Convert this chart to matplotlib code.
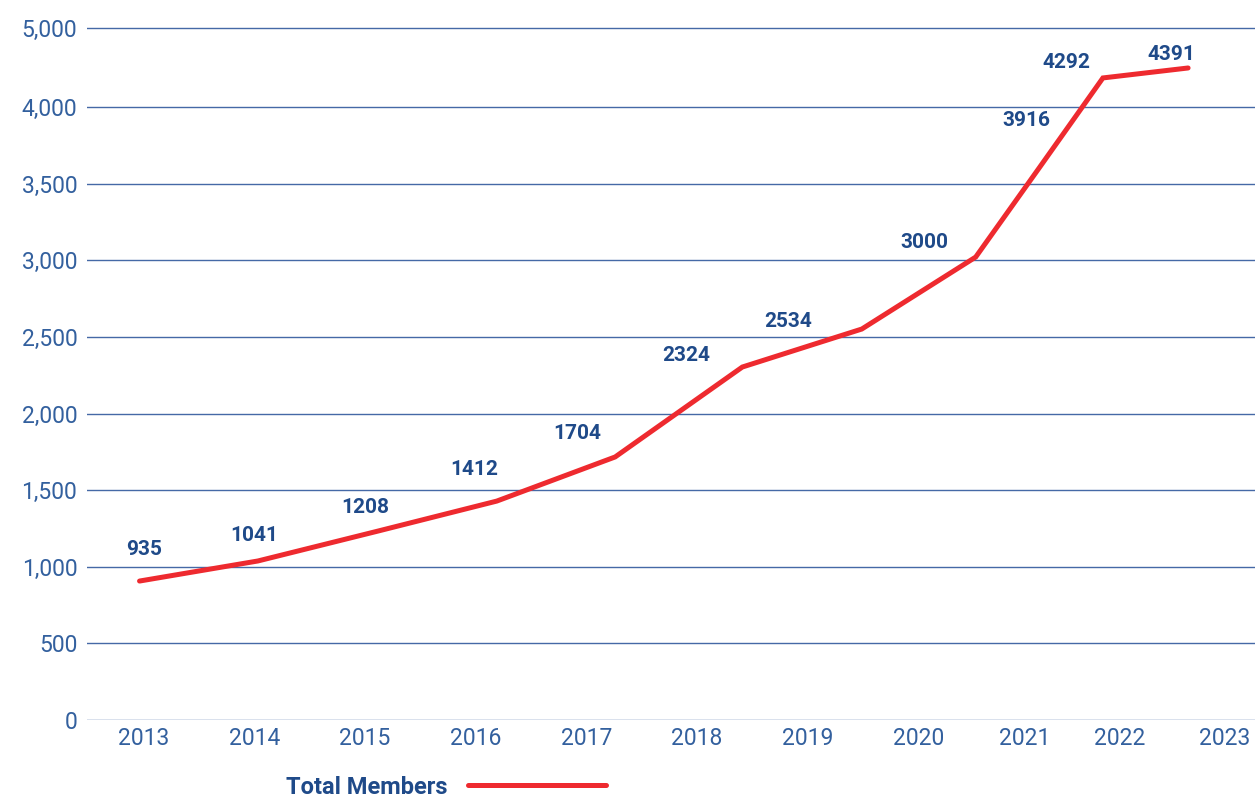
import matplotlib
matplotlib.use("Agg")
import matplotlib.pyplot as plt

# ---- data ----
years = ["2013", "2014", "2015", "2016", "2017", "2018", "2019", "2020", "2021", "2022", "2023"]
# positions of the year labels on the x axis (in year units)
tick_pos = [2013, 2014, 2015, 2016, 2017, 2018, 2019, 2020, 2020.96, 2021.82, 2022.77]
# line vertices as drawn (position, value)
line_pos = [2012.96, 2014.03, 2015.12, 2016.19, 2017.26, 2018.41, 2019.49, 2020.52, 2021.10, 2021.67, 2022.44]
line_vals = [907, 1038, 1234, 1429, 1717, 2304, 2552, 3022, 3610, 4191, 4256]
# data labels shown on the chart
members = [935, 1041, 1208, 1412, 1704, 2324, 2534, 3000, 3916, 4292, 4391]
label_pos = [2013.0, 2014.0, 2015.0, 2015.99, 2016.92, 2017.90, 2018.82, 2020.06, 2020.98, 2021.34, 2022.29]
label_y = [1116, 1207, 1384, 1632, 1873, 2382, 2598, 3120, 3910, 4289, 4341]
y_ticks = [0, 500, 1000, 1500, 2000, 2500, 3000, 3500, 4000, 4520]
y_tick_labels = ["0", "500", "1,000", "1,500", "2,000", "2,500", "3,000", "3,500", "4,000", "5,000"]
series_name = "Total Members"

# ---- style ----
RED = "#ee2a2f"
TICK = "#33609e"
LAB = "#1f4a89"
GRID = "#4569a6"

W, H = 1255, 797
fig = plt.figure(figsize=(W / 100, H / 100), dpi=100)
ax_left = 87 / W
ax_bottom = (H - 720) / H
ymax = 4650
px_per_unit = 0.1532
ax_top_px = 720 - ymax * px_per_unit
ax = fig.add_axes([ax_left, ax_bottom, 1 - ax_left, (720 - ax_top_px) / H])

ax.set_xlim(2012.485, 2023.045)
ax.set_ylim(0, ymax)

for s in ax.spines.values():
    s.set_visible(False)

ax.set_yticks(y_ticks)
ax.set_yticklabels(y_tick_labels)
ax.set_xticks(tick_pos)
ax.set_xticklabels(years)
ax.tick_params(axis="both", length=0, labelsize=16.5, labelcolor=TICK)
ax.tick_params(axis="y", pad=7)
ax.tick_params(axis="x", pad=5)
for t in ax.get_xticklabels() + ax.get_yticklabels():
    t.set_fontfamily("Roboto")
    t.set_fontweight("normal")

ax.yaxis.grid(True, color=GRID, linewidth=1.0)
ax.xaxis.grid(False)
ax.set_axisbelow(True)

ln, = ax.plot(line_pos, line_vals, color=RED, linewidth=3.6,
              solid_capstyle="round", solid_joinstyle="miter", label=series_name, zorder=3)

for x, y, v in zip(label_pos, label_y, members):
    ax.text(x, y, str(v), ha="center", va="center", fontsize=15,
            fontweight="bold", color=LAB, fontfamily="Roboto", zorder=4)

leg = fig.legend(handles=[ln], labels=[series_name], loc="center",
                 bbox_to_anchor=(446 / W, 1 - 787 / H), frameon=False,
                 markerfirst=False, handlelength=5.85, handletextpad=0.9,
                 prop={"family": "Roboto", "weight": "bold", "size": 17})
for t in leg.get_texts():
    t.set_color(LAB)

fig.savefig("out.png", dpi=100)
